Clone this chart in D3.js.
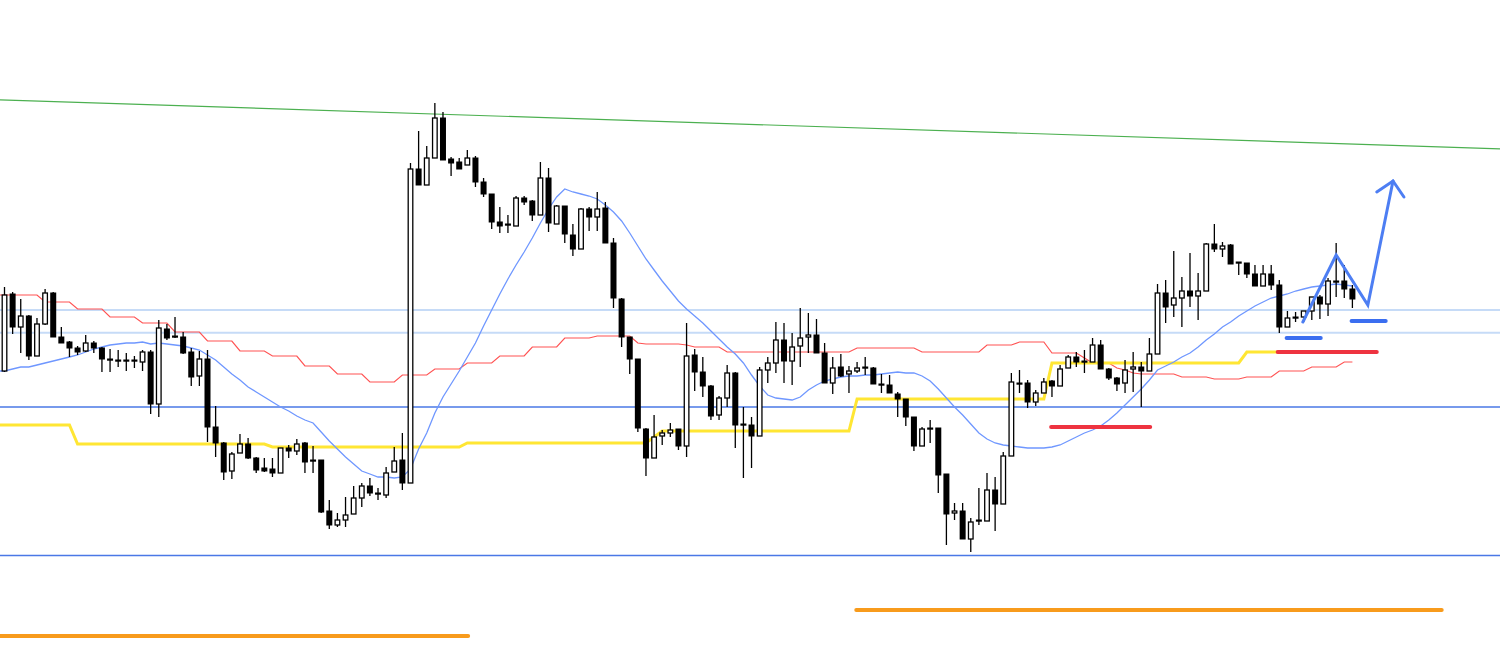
<!DOCTYPE html>
<html><head><meta charset="utf-8">
<script src="https://cdn.jsdelivr.net/npm/d3@7"></script>
<style>html,body{margin:0;padding:0;background:#fff;overflow:hidden}</style>
</head><body><svg id="chart" width="1500" height="666"></svg>
<script>
// Candle data (price points; higher = up)
const open = [629,706,673,684,644,676,707,663,658,652,
 649,657,652,641,640,640,640,638,648,596,
 671,664,663,648,624,641,573,557,529,547,
 556,542,532,531,527,552,549,557,540,540,
 489,475,480,486,502,514,507,505,528,540,
 517,831,815,842,882,841,838,835,842,818,
 806,778,776,774,802,799,785,822,776,794,
 765,751,791,783,792,757,701,663,641,571,
 542,564,567,571,554,645,628,614,585,602,
 627,576,575,564,630,637,660,639,654,663,
 665,647,617,633,626,629,633,632,616,615,
 606,601,583,554,572,572,526,487,489,461,
 480,479,510,496,544,617,617,598,607,619,
 614,632,643,639,638,655,631,622,617,631,
 633,629,646,707,695,702,709,704,709,756,
 751,755,738,737,726,714,726,715,673,683,
 683,689,703,696,719,719,711];
const high = [713,708,701,685,682,711,708,673,659,654,
 665,659,653,651,650,647,644,650,650,680,
 676,683,668,652,649,650,594,558,548,566,
 562,543,542,542,552,555,561,558,554,540,
 500,487,503,514,517,522,512,533,553,567,
 837,869,854,897,888,843,842,850,844,822,
 806,793,785,804,804,800,838,832,795,794,
 776,792,793,808,798,762,702,663,641,572,
 585,570,577,571,677,651,643,615,604,635,
 628,593,583,633,643,678,677,667,692,687,
 681,657,643,646,634,638,643,633,626,625,
 608,601,583,573,580,572,526,497,497,482,
 512,527,523,548,627,630,620,610,622,620,
 635,645,648,650,662,660,632,623,640,648,
 638,662,716,720,749,723,747,727,757,776,
 758,756,738,737,735,735,735,720,689,688,
 689,703,705,722,757,735,715];
const low = [628,666,647,640,644,675,663,657,643,645,
 648,647,628,628,633,629,632,629,586,583,
 660,662,646,614,614,558,543,520,521,547,
 541,527,528,523,527,542,545,527,527,487,
 471,473,473,486,493,504,500,502,528,510,
 517,815,815,842,840,824,831,835,813,803,
 771,767,767,774,795,779,785,768,776,757,
 744,751,769,769,757,692,653,626,568,524,
 542,555,563,550,543,609,603,580,580,593,
 552,522,532,564,617,627,617,615,633,647,
 647,617,606,623,607,627,625,616,607,607,
 583,574,549,554,557,507,455,480,461,448,
 475,479,469,496,544,607,592,594,607,603,
 614,632,633,627,638,631,620,609,607,608,
 593,629,646,677,683,673,693,680,709,748,
 743,736,725,722,714,714,710,667,673,678,
 678,680,681,684,703,702,692];
const close = [705,673,684,644,676,707,663,657,652,648,
 657,652,641,640,639,639,639,648,596,672,
 662,663,647,623,641,573,557,528,546,556,
 542,530,529,527,552,549,556,538,539,488,
 475,480,485,502,514,507,506,527,539,517,
 831,815,842,882,840,837,831,842,818,806,
 778,774,775,802,798,785,822,777,794,766,
 751,791,783,791,757,702,663,641,572,542,
 563,567,570,554,644,628,614,584,602,627,
 575,575,564,630,637,660,639,653,662,665,
 647,617,632,624,629,632,632,616,615,607,
 601,583,554,571,571,525,486,489,461,478,
 479,510,496,544,618,616,598,607,618,614,
 631,643,638,638,655,631,622,616,630,633,
 629,646,707,693,702,709,704,709,756,751,
 754,736,737,726,714,726,715,673,682,682,
 689,703,696,719,718,711,701];

// Indicator lines (one value per candle)
const maLine = [629,631,633,633,635,637,639,641,643,645,
 648,651,653,655,656,657,657,658,656,657,
 656,655,654,652,650,645,640,633,626,620,
 613,608,603,598,593,589,584,580,577,568,
 559,551,543,536,529,526,523,523,522,523,
 531,551,567,587,603,616,629,643,657,674,
 690,706,721,735,748,762,777,791,803,811,
 808,806,804,801,795,788,779,767,754,741,
 730,719,709,699,691,684,677,669,661,653,
 646,637,625,614,605,602,601,600,603,610,
 615,619,621,623,624,624,625,625,626,627,
 628,627,627,624,619,611,602,593,585,576,
 567,561,557,555,554,553,552,552,552,553,
 555,559,563,567,570,574,580,587,595,603,
 611,620,630,634,638,643,647,653,660,666,
 673,678,684,689,694,698,702,704,706,709,
 711,713,714,715,716,715,714];
const redStep = [705,705,705,705,705,
 698,698,698,698, 691,691,691,691, 683,683,683,683, 677,677,677,677,
 668,668,668,668, 659,659,659,659, 649,649,649,649, 644,644,644,644,
 634,634,634,634, 626,626,626,626, 618,618,618,618, 625,625,625,625,
 631,631,631,631, 637,637,637,637, 644,644,644,644, 653,653,653,653,
 662,662,662,662, 664,664,664,664,664, 657, 656,656,656,656,656, 655,
 653,653,653,653,
 648,648,648,648,648,648,648,648,648,648,648,648,648,648,648,648,
 652,652,652,652,652,652,652,652, 648,648,648,648,648,648,648,648,
 655,655,655,655, 658,658,658,658, 647,647,647,647, 642, 637,637,637,
 632, 630, 627, 626,626,626,626,626, 623,623,623,623, 621,621,621,621,
 623,623,623,623, 629,629,629,629, 633,633,633,633, 638,638];
const yellowStep = [575,575,575,575,575,575,575,575,575,
 556,556,556,556,556,556,556,556,556,556,556,556,556,556,556,556,556,556,556,556,556,556,556,556,
 553,553,553,553,553,553,553,553,553,553,553,553,553,553,553,553,553,553,553,553,553,553,553,553,
 557,557,557,557,557,557,557,557,557,557,557,557,557,557,557,557,557,557,557,557,557,557,557,
 563,
 569,569,569,569,569,569,569,569,569,569,569,569,569,569,569,569,569,569,569,569,569,569,569,569,
 601,601,601,601,601,601,601,601,601,601,601,601,601,601,601,601,601,601,601,601,601,601,601,601,
 637,637,637,637,637,637,637,637,637,637,637,637,637,637,637,637,637,637,637,637,637,637,637,637,
 648,648,648,648,648];

// Horizontal levels
const lightLevels = [690, 667.3];
const blueLevels = [593, 444.5];
// Trend line anchors (candle index, price)
const trendIdx = [0, 166];
const trendVal = [900, 856];
// Annotation segments (candle-index start/end, price)
const orangeStart = [-0.6, 104.9], orangeEnd = [57.1, 177.0], orangeVal = [364, 390];
const redSegStart = [128.9, 156.8], redSegEnd = [141.1, 169.0], redSegVal = [573, 648];
const blueSegStart = [157.9, 165.9], blueSegEnd = [162.1, 170.1], blueSegVal = [662, 679];
const arrowIdx = [159.9, 164.0, 167.9, 171.0], arrowVal = [678, 745, 695, 819];
const headIdx = [169.0, 171.0, 172.35], headVal = [808, 819, 803];

const W = 1500, H = 666;
const svg = d3.select('#chart');
svg.append('rect').attr('width', W).attr('height', H).attr('fill', '#fff');

const x = d3.scaleLinear().domain([0, 166]).range([4.5, 1352.4]);
const y = d3.scaleLinear().domain([334, 1000]).range([H, 0]);
const leftIdx = x.invert(0);

const gBack = svg.append('g');
// horizontal lines
lightLevels.forEach(v => gBack.append('line').attr('x1', 0).attr('x2', W)
  .attr('y1', y(v)).attr('y2', y(v)).attr('stroke', '#c6dbf7').attr('stroke-width', 2));
blueLevels.forEach(v => gBack.append('line').attr('x1', 0).attr('x2', W)
  .attr('y1', y(v)).attr('y2', y(v)).attr('stroke', '#4a78e6').attr('stroke-width', 1.6));
// trend line extended across the chart
const slope = (trendVal[1] - trendVal[0]) / (trendIdx[1] - trendIdx[0]);
const i1 = x.invert(W);
gBack.append('line').attr('x1', 0).attr('x2', W)
  .attr('y1', y(trendVal[0] + slope * (leftIdx - trendIdx[0])))
  .attr('y2', y(trendVal[0] + slope * (i1 - trendIdx[0])))
  .attr('stroke', '#4cb050').attr('stroke-width', 1.2);

// indicator lines, continued from the chart's left edge
const pl = d3.line().x(d => x(d[0])).y(d => y(d[1]));
const series = arr => [[leftIdx, arr[0]]].concat(arr.map((v, i) => [i, v]));
gBack.append('path').attr('d', pl(series(redStep))).attr('fill', 'none')
  .attr('stroke', '#ff5252').attr('stroke-width', 1.2);
gBack.append('path').attr('d', pl(series(yellowStep))).attr('fill', 'none')
  .attr('stroke', '#ffe633').attr('stroke-width', 3);
gBack.append('path').attr('d', pl(series(maLine))).attr('fill', 'none')
  .attr('stroke', '#6f97ff').attr('stroke-width', 1.3);

// candles
const gC = svg.append('g');
open.forEach((o, i) => {
  const c = close[i];
  const cx = x(i);
  gC.append('line').attr('x1', cx).attr('x2', cx)
    .attr('y1', y(high[i])).attr('y2', y(low[i]))
    .attr('stroke', '#000').attr('stroke-width', 1.3);
  const top = y(Math.max(o, c)), bot = y(Math.min(o, c));
  const h = Math.max(1.2, bot - top);
  if (c > o) {
    gC.append('rect').attr('x', cx - 2.3).attr('width', 4.6)
      .attr('y', top).attr('height', h)
      .attr('fill', '#fff').attr('stroke', '#000').attr('stroke-width', 1.3);
  } else {
    gC.append('rect').attr('x', cx - 3).attr('width', 6)
      .attr('y', top - 0.5).attr('height', h + 1)
      .attr('fill', '#000');
  }
});

// annotations
const gA = svg.append('g').attr('stroke-linecap', 'round');
orangeVal.forEach((v, k) => gA.append('line')
  .attr('x1', Math.max(0, x(orangeStart[k]))).attr('x2', x(orangeEnd[k]))
  .attr('y1', y(v)).attr('y2', y(v)).attr('stroke', '#f89b1c').attr('stroke-width', 4));
redSegVal.forEach((v, k) => gA.append('line')
  .attr('x1', x(redSegStart[k])).attr('x2', x(redSegEnd[k]))
  .attr('y1', y(v)).attr('y2', y(v)).attr('stroke', '#ee3340').attr('stroke-width', 4));
blueSegVal.forEach((v, k) => gA.append('line')
  .attr('x1', x(blueSegStart[k])).attr('x2', x(blueSegEnd[k]))
  .attr('y1', y(v)).attr('y2', y(v)).attr('stroke', '#3b6ef0').attr('stroke-width', 4));
gA.append('path').attr('d', pl(arrowIdx.map((d, k) => [d, arrowVal[k]])))
  .attr('fill', 'none').attr('stroke', '#4d7ef3').attr('stroke-width', 3).attr('stroke-linejoin', 'miter');
gA.append('path').attr('d', pl(headIdx.map((d, k) => [d, headVal[k]])))
  .attr('fill', 'none').attr('stroke', '#4d7ef3').attr('stroke-width', 3).attr('stroke-linejoin', 'miter');
</script>
</body></html>
